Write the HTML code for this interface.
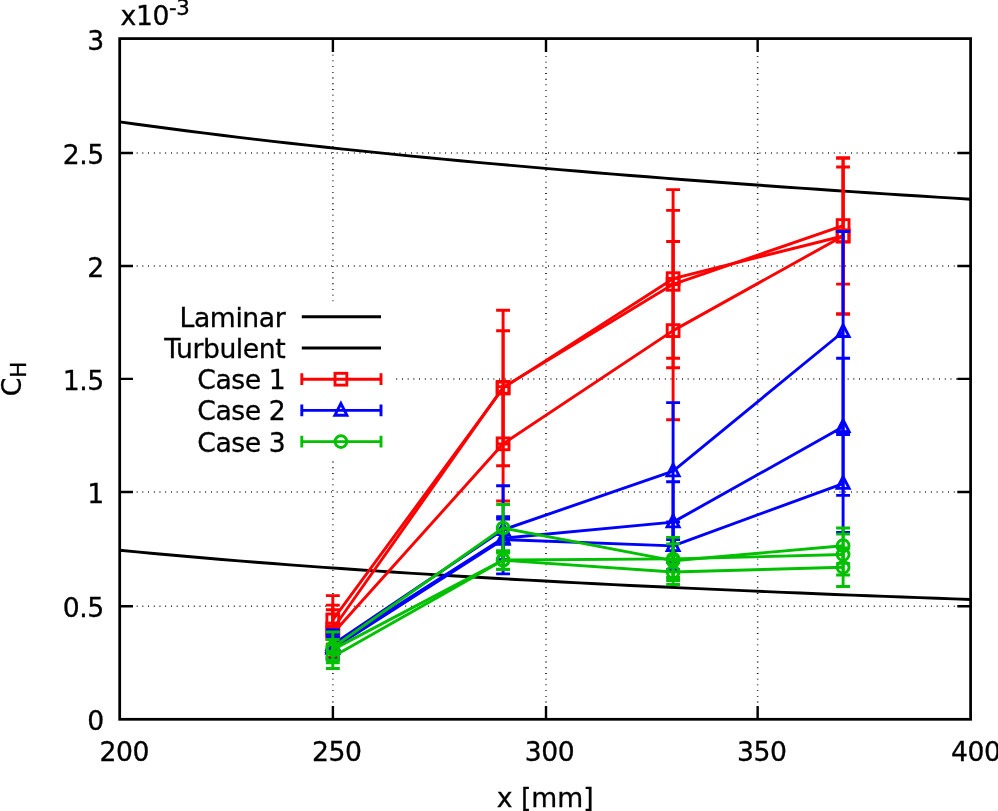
<!DOCTYPE html>
<html lang="en">
<head>
<meta charset="utf-8">
<title>C_H vs x</title>
<style>
html,body{margin:0;padding:0;background:#fff;}
body{width:998px;height:811px;overflow:hidden;}
svg text{white-space:pre;}
</style>
</head>
<body>
<svg width="998" height="811" viewBox="0 0 998 811" style="display:block">
<rect width="998" height="811" fill="#fff"/>
<g stroke="#000" stroke-width="1.55" stroke-dasharray="0.85 4.864" fill="none">
<path d="M119.55 606.2H970.6"/>
<path d="M119.55 492H970.6"/>
<path d="M396.3 378.9H970.6"/>
<path d="M119.55 266H970.6"/>
<path d="M119.55 153H970.6"/>
<path d="M332.9 719.6V461"/>
<path d="M332.9 301.3V38.6"/>
<path d="M546 719.6V38.6"/>
<path d="M757.65 719.6V38.6"/>
</g>
<path d="M119.7 550.19L136.72 551.85L153.74 553.46L170.75 555.02L187.77 556.54L204.79 558.02L221.81 559.46L238.83 560.86L255.84 562.22L272.86 563.55L289.88 564.85L306.9 566.11L323.92 567.35L340.93 568.55L357.95 569.73L374.97 570.88L391.99 572L409.01 573.1L426.02 574.17L443.04 575.22L460.06 576.25L477.08 577.25L494.1 578.24L511.11 579.2L528.13 580.15L545.15 581.07L562.17 581.98L579.19 582.87L596.2 583.74L613.22 584.6L630.24 585.44L647.26 586.26L664.28 587.07L681.29 587.87L698.31 588.65L715.33 589.41L732.35 590.17L749.37 590.91L766.38 591.63L783.4 592.35L800.42 593.05L817.44 593.75L834.46 594.43L851.47 595.1L868.49 595.75L885.51 596.4L902.53 597.04L919.55 597.67L936.56 598.29L953.58 598.9L970.6 599.5" fill="none" stroke="#000" stroke-width="2.9"/>
<path d="M119.7 121.87L136.72 124.23L153.74 126.54L170.75 128.79L187.77 131L204.79 133.15L221.81 135.26L238.83 137.32L255.84 139.35L272.86 141.33L289.88 143.26L306.9 145.17L323.92 147.03L340.93 148.86L357.95 150.65L374.97 152.41L391.99 154.14L409.01 155.84L426.02 157.51L443.04 159.14L460.06 160.75L477.08 162.34L494.1 163.89L511.11 165.42L528.13 166.93L545.15 168.41L562.17 169.86L579.19 171.3L596.2 172.71L613.22 174.1L630.24 175.47L647.26 176.82L664.28 178.15L681.29 179.46L698.31 180.75L715.33 182.03L732.35 183.28L749.37 184.52L766.38 185.74L783.4 186.94L800.42 188.13L817.44 189.31L834.46 190.46L851.47 191.61L868.49 192.73L885.51 193.85L902.53 194.95L919.55 196.03L936.56 197.1L953.58 198.16L970.6 199.21" fill="none" stroke="#000" stroke-width="2.9"/>
<g stroke="#ff0000" stroke-width="2.9" fill="none">
<path d="M332.8 595.64V644.2M325.85 595.64H339.75M325.85 644.2H339.75M503.1 310.29V465.76M496.15 310.29H510.05M496.15 465.76H510.05M673.1 189.6V367.72M666.15 189.6H680.05M666.15 367.72H680.05M843.1 157.95V314.06M836.15 157.95H850.05M836.15 314.06H850.05"/>
<path d="M332.8 619.92L503.1 388.03L673.1 278.66L843.1 236" stroke-linejoin="round"/>
</g>
<rect x="326.9" y="614.02" width="11.8" height="11.8" fill="none" stroke="#ff0000" stroke-width="2.9"/>
<rect x="497.2" y="382.13" width="11.8" height="11.8" fill="none" stroke="#ff0000" stroke-width="2.9"/>
<rect x="667.2" y="272.76" width="11.8" height="11.8" fill="none" stroke="#ff0000" stroke-width="2.9"/>
<rect x="837.2" y="230.1" width="11.8" height="11.8" fill="none" stroke="#ff0000" stroke-width="2.9"/>
<g stroke="#ff0000" stroke-width="2.9" fill="none">
<path d="M332.8 605.17V652.82M325.85 605.17H339.75M325.85 652.82H339.75M503.1 330.73V443.96M496.15 330.73H510.05M496.15 443.96H510.05M673.1 210.41V358.26M666.15 210.41H680.05M666.15 358.26H680.05M843.1 167.03V284.11M836.15 167.03H850.05M836.15 284.11H850.05"/>
<path d="M332.8 628.99L503.1 387.35L673.1 284.33L843.1 225.57" stroke-linejoin="round"/>
</g>
<rect x="326.9" y="623.09" width="11.8" height="11.8" fill="none" stroke="#ff0000" stroke-width="2.9"/>
<rect x="497.2" y="381.45" width="11.8" height="11.8" fill="none" stroke="#ff0000" stroke-width="2.9"/>
<rect x="667.2" y="278.43" width="11.8" height="11.8" fill="none" stroke="#ff0000" stroke-width="2.9"/>
<rect x="837.2" y="219.67" width="11.8" height="11.8" fill="none" stroke="#ff0000" stroke-width="2.9"/>
<g stroke="#ff0000" stroke-width="2.9" fill="none">
<path d="M332.8 609.71V657.36M325.85 609.71H339.75M325.85 657.36H339.75M503.1 386.66V501.02M496.15 386.66H510.05M496.15 501.02H510.05M673.1 241.45V419.79M666.15 241.45H680.05M666.15 419.79H680.05M843.1 157.95V314.06M836.15 157.95H850.05M836.15 314.06H850.05"/>
<path d="M332.8 633.53L503.1 443.84L673.1 330.62L843.1 236" stroke-linejoin="round"/>
</g>
<rect x="326.9" y="627.63" width="11.8" height="11.8" fill="none" stroke="#ff0000" stroke-width="2.9"/>
<rect x="497.2" y="437.94" width="11.8" height="11.8" fill="none" stroke="#ff0000" stroke-width="2.9"/>
<rect x="667.2" y="324.72" width="11.8" height="11.8" fill="none" stroke="#ff0000" stroke-width="2.9"/>
<rect x="837.2" y="230.1" width="11.8" height="11.8" fill="none" stroke="#ff0000" stroke-width="2.9"/>
<g stroke="#0000ff" stroke-width="2.9" fill="none">
<path d="M332.8 629.67V659.17M325.85 629.67H339.75M325.85 659.17H339.75M503.1 485.82V573.86M496.15 485.82H510.05M496.15 573.86H510.05M673.1 402.66V539.48M666.15 402.66H680.05M666.15 539.48H680.05M843.1 231.46V432.04M836.15 231.46H850.05M836.15 432.04H850.05"/>
<path d="M332.8 644.42L503.1 529.84L673.1 471.07L843.1 331.75" stroke-linejoin="round"/>
</g>
<path d="M332.8 637.52L326.8 649.22L338.8 649.22Z" fill="none" stroke="#0000ff" stroke-width="2.9" stroke-linejoin="miter"/>
<path d="M503.1 522.94L497.1 534.64L509.1 534.64Z" fill="none" stroke="#0000ff" stroke-width="2.9" stroke-linejoin="miter"/>
<path d="M673.1 464.17L667.1 475.87L679.1 475.87Z" fill="none" stroke="#0000ff" stroke-width="2.9" stroke-linejoin="miter"/>
<path d="M843.1 324.85L837.1 336.55L849.1 336.55Z" fill="none" stroke="#0000ff" stroke-width="2.9" stroke-linejoin="miter"/>
<g stroke="#0000ff" stroke-width="2.9" fill="none">
<path d="M332.8 634.21V659.17M325.85 634.21H339.75M325.85 659.17H339.75M503.1 516.68V559.79M496.15 516.68H510.05M496.15 559.79H510.05M673.1 481.74V562.51M666.15 481.74H680.05M666.15 562.51H680.05M843.1 358.3V495.35M836.15 358.3H850.05M836.15 495.35H850.05"/>
<path d="M332.8 646.69L503.1 538.23L673.1 522.12L843.1 426.83" stroke-linejoin="round"/>
</g>
<path d="M332.8 639.79L326.8 651.49L338.8 651.49Z" fill="none" stroke="#0000ff" stroke-width="2.9" stroke-linejoin="miter"/>
<path d="M503.1 531.33L497.1 543.03L509.1 543.03Z" fill="none" stroke="#0000ff" stroke-width="2.9" stroke-linejoin="miter"/>
<path d="M673.1 515.22L667.1 526.92L679.1 526.92Z" fill="none" stroke="#0000ff" stroke-width="2.9" stroke-linejoin="miter"/>
<path d="M843.1 419.93L837.1 431.63L849.1 431.63Z" fill="none" stroke="#0000ff" stroke-width="2.9" stroke-linejoin="miter"/>
<g stroke="#0000ff" stroke-width="2.9" fill="none">
<path d="M332.8 637.16V659.85M325.85 637.16H339.75M325.85 659.85H339.75M503.1 518.95V560.24M496.15 518.95H510.05M496.15 560.24H510.05M673.1 521.9V569.77M666.15 521.9H680.05M666.15 569.77H680.05M843.1 434.54V532.56M836.15 434.54H850.05M836.15 532.56H850.05"/>
<path d="M332.8 648.51L503.1 539.6L673.1 545.83L843.1 483.55" stroke-linejoin="round"/>
</g>
<path d="M332.8 641.61L326.8 653.31L338.8 653.31Z" fill="none" stroke="#0000ff" stroke-width="2.9" stroke-linejoin="miter"/>
<path d="M503.1 532.7L497.1 544.4L509.1 544.4Z" fill="none" stroke="#0000ff" stroke-width="2.9" stroke-linejoin="miter"/>
<path d="M673.1 538.93L667.1 550.63L679.1 550.63Z" fill="none" stroke="#0000ff" stroke-width="2.9" stroke-linejoin="miter"/>
<path d="M843.1 476.65L837.1 488.35L849.1 488.35Z" fill="none" stroke="#0000ff" stroke-width="2.9" stroke-linejoin="miter"/>
<g stroke="#00c000" stroke-width="2.9" fill="none">
<path d="M332.8 631.94V662.8M325.85 631.94H339.75M325.85 662.8H339.75M503.1 504.43V551.62M496.15 504.43H510.05M496.15 551.62H510.05M673.1 543.91V577.49M666.15 543.91H680.05M666.15 577.49H680.05M843.1 528.02V563.42M836.15 528.02H850.05M836.15 563.42H850.05"/>
<path d="M332.8 647.37L503.1 528.02L673.1 560.7L843.1 545.72" stroke-linejoin="round"/>
</g>
<circle cx="332.8" cy="647.37" r="5.9" fill="none" stroke="#00c000" stroke-width="2.9"/>
<circle cx="503.1" cy="528.02" r="5.9" fill="none" stroke="#00c000" stroke-width="2.9"/>
<circle cx="673.1" cy="560.7" r="5.9" fill="none" stroke="#00c000" stroke-width="2.9"/>
<circle cx="843.1" cy="545.72" r="5.9" fill="none" stroke="#00c000" stroke-width="2.9"/>
<g stroke="#00c000" stroke-width="2.9" fill="none">
<path d="M332.8 639.43V659.85M325.85 639.43H339.75M325.85 659.85H339.75M503.1 550.71V569.32M496.15 550.71H510.05M496.15 569.32H510.05M673.1 537.33V580.44M666.15 537.33H680.05M666.15 580.44H680.05M843.1 534.15V574.99M836.15 534.15H850.05M836.15 574.99H850.05"/>
<path d="M332.8 649.64L503.1 560.02L673.1 558.88L843.1 554.57" stroke-linejoin="round"/>
</g>
<circle cx="332.8" cy="649.64" r="5.9" fill="none" stroke="#00c000" stroke-width="2.9"/>
<circle cx="503.1" cy="560.02" r="5.9" fill="none" stroke="#00c000" stroke-width="2.9"/>
<circle cx="673.1" cy="558.88" r="5.9" fill="none" stroke="#00c000" stroke-width="2.9"/>
<circle cx="843.1" cy="554.57" r="5.9" fill="none" stroke="#00c000" stroke-width="2.9"/>
<g stroke="#00c000" stroke-width="2.9" fill="none">
<path d="M332.8 644.88V668.47M325.85 644.88H339.75M325.85 668.47H339.75M503.1 552.98V569.55M496.15 552.98H510.05M496.15 569.55H510.05M673.1 559.56V584.52M666.15 559.56H680.05M666.15 584.52H680.05M843.1 547.99V586.56M836.15 547.99H850.05M836.15 586.56H850.05"/>
<path d="M332.8 656.68L503.1 560.24L673.1 572.04L843.1 567.28" stroke-linejoin="round"/>
</g>
<circle cx="332.8" cy="656.68" r="5.9" fill="none" stroke="#00c000" stroke-width="2.9"/>
<circle cx="503.1" cy="560.24" r="5.9" fill="none" stroke="#00c000" stroke-width="2.9"/>
<circle cx="673.1" cy="572.04" r="5.9" fill="none" stroke="#00c000" stroke-width="2.9"/>
<circle cx="843.1" cy="567.28" r="5.9" fill="none" stroke="#00c000" stroke-width="2.9"/>
<rect x="133.5" y="301.6" width="262" height="159.3" fill="#fff"/>
<text x="285.2" y="326.7" text-anchor="end" font-family='"DejaVu Sans", "Liberation Sans", sans-serif' font-size="26.67" letter-spacing="-0.45" fill="#000" stroke="#000" stroke-width="0.3">Laminar</text>
<path d="M301.8 316.8H381" stroke="#000" stroke-width="2.9" fill="none"/>
<text x="285.2" y="357.9" text-anchor="end" font-family='"DejaVu Sans", "Liberation Sans", sans-serif' font-size="26.67" letter-spacing="-0.45" fill="#000" stroke="#000" stroke-width="0.3">Turbulent</text>
<path d="M301.8 348H381" stroke="#000" stroke-width="2.9" fill="none"/>
<text x="285.2" y="389.1" text-anchor="end" font-family='"DejaVu Sans", "Liberation Sans", sans-serif' font-size="26.67" letter-spacing="-0.45" fill="#000" stroke="#000" stroke-width="0.3">Case 1</text>
<path d="M301.8 379.2H381M301.8 373.3V385.1M381 373.3V385.1" stroke="#ff0000" stroke-width="2.9" fill="none"/>
<rect x="335" y="373.3" width="11.8" height="11.8" fill="none" stroke="#ff0000" stroke-width="2.9"/>
<text x="285.2" y="420.3" text-anchor="end" font-family='"DejaVu Sans", "Liberation Sans", sans-serif' font-size="26.67" letter-spacing="-0.45" fill="#000" stroke="#000" stroke-width="0.3">Case 2</text>
<path d="M301.8 410.4H381M301.8 404.5V416.3M381 404.5V416.3" stroke="#0000ff" stroke-width="2.9" fill="none"/>
<path d="M340.9 403.5L334.9 415.2L346.9 415.2Z" fill="none" stroke="#0000ff" stroke-width="2.9" stroke-linejoin="miter"/>
<text x="285.2" y="451.5" text-anchor="end" font-family='"DejaVu Sans", "Liberation Sans", sans-serif' font-size="26.67" letter-spacing="-0.45" fill="#000" stroke="#000" stroke-width="0.3">Case 3</text>
<path d="M301.8 441.6H381M301.8 435.7V447.5M381 435.7V447.5" stroke="#00c000" stroke-width="2.9" fill="none"/>
<circle cx="340.9" cy="441.6" r="5.9" fill="none" stroke="#00c000" stroke-width="2.9"/>
<g stroke="#000" stroke-width="2.75" fill="none">
<rect x="119.7" y="38.6" width="850.9" height="680.7" stroke-linejoin="miter"/>
<path d="M119.7 606.2h13.3M970.6 606.2h-13.3M119.7 492h13.3M970.6 492h-13.3M119.7 378.9h13.3M970.6 378.9h-13.3M119.7 266h13.3M970.6 266h-13.3M119.7 153h13.3M970.6 153h-13.3M332.9 719.3v-13.3M332.9 38.6v13.3M546 719.3v-13.3M546 38.6v13.3M757.65 719.3v-13.3M757.65 38.6v13.3" stroke-width="2.4"/>
</g>
<g font-family='"DejaVu Sans", "Liberation Sans", sans-serif' font-size="26.67" fill="#000" stroke="#000" stroke-width="0.3">
<text x="103.8" y="729.6" text-anchor="end" letter-spacing="-0.45">0</text>
<text x="103.8" y="617.1" text-anchor="end" letter-spacing="-0.45">0.5</text>
<text x="103.8" y="502.9" text-anchor="end" letter-spacing="-0.45">1</text>
<text x="103.8" y="389.8" text-anchor="end" letter-spacing="-0.45">1.5</text>
<text x="103.8" y="276.9" text-anchor="end" letter-spacing="-0.45">2</text>
<text x="103.8" y="163.9" text-anchor="end" letter-spacing="-0.45">2.5</text>
<text x="103.8" y="49.5" text-anchor="end" letter-spacing="-0.45">3</text>
<text x="124.3" y="760.8" text-anchor="middle" letter-spacing="-0.45">200</text>
<text x="336.7" y="760.8" text-anchor="middle" letter-spacing="-0.45">250</text>
<text x="549.6" y="760.8" text-anchor="middle" letter-spacing="-0.45">300</text>
<text x="761.65" y="760.8" text-anchor="middle" letter-spacing="-0.45">350</text>
<text x="975.8" y="760.8" text-anchor="middle" letter-spacing="-0.45">400</text>
<text x="545.2" y="806.5" text-anchor="middle">x [mm]</text>
<text x="120.5" y="24.7" letter-spacing="-0.4">x10<tspan font-size="21.33" dy="-9.7">-3</tspan></text>
<text transform="translate(20.5 396.3) rotate(-90)">C<tspan font-size="21.33" dy="5.5">H</tspan></text>
</g>
</svg>
</body>
</html>
